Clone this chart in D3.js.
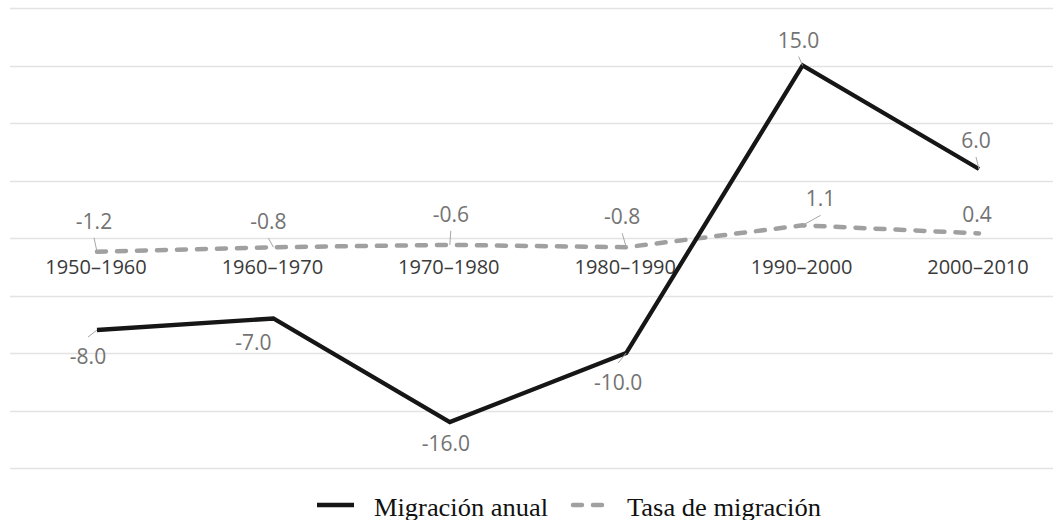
<!DOCTYPE html>
<html>
<head>
<meta charset="utf-8">
<script src="https://cdn.jsdelivr.net/npm/d3@7"></script>
<style>
  html, body { margin: 0; padding: 0; background: #fff; }
  svg { display: block; }
  .grid line { stroke: #e3e3e3; stroke-width: 1.3px; }
  .cat { font-family: "Open Sans", sans-serif; font-size: 20px; fill: #3a3a3a; text-anchor: middle; }
  .lbl { font-family: "Open Sans", sans-serif; font-size: 21px; fill: #737373; text-anchor: middle; }
  .leader { stroke: #a6a6a6; stroke-width: 1px; }
  .legend text { font-family: "Liberation Serif", "Times New Roman", serif; font-size: 25px; fill: #111; }
</style>
</head>
<body>
<svg id="chart" width="1053" height="520"></svg>
<script>
// chart values
const categories = ['1950–1960', '1960–1970', '1970–1980', '1980–1990', '1990–2000', '2000–2010'];
const migracionAnual = [-8.0, -7.0, -16.0, -10.0, 15.0, 6.0];
const tasaMigracion = [-1.2, -0.8, -0.6, -0.8, 1.1, 0.4];
const yTicks = [-20, -15, -10, -5, 0, 5, 10, 15, 20];
const seriesNames = ['Migración anual', 'Tasa de migración'];

// label placement (offset of label centre / baseline from its point), leader lines on or off
const anualLabelDx = [-9, -20, -4, -8, -4, -3];
const anualLabelDy = [34, 31, 29, 37, -18, -21];
const anualLeader = [true, false, false, true, true, true];
const tasaLabelDx = [-3, -5, 1, -4, 18, -2];
const tasaLabelDy = [-23, -18, -23, -23, -19, -11];
const tasaLeader = [true, true, true, true, true, false];

const svg = d3.select('#chart');

const x = d3.scalePoint()
  .domain(categories)
  .range([97, 979]);

const y = d3.scaleLinear()
  .domain([-20, 20])
  .range([468, 8]);

// gridlines
svg.append('g')
  .attr('class', 'grid')
  .selectAll('line')
  .data(yTicks)
  .enter().append('line')
  .attr('x1', 10)
  .attr('x2', 1053)
  .attr('y1', d => Math.round(y(d)) + 0.5)
  .attr('y2', d => Math.round(y(d)) + 0.5);

// category labels sit on the zero line
svg.append('g')
  .selectAll('text')
  .data(categories)
  .enter().append('text')
  .attr('class', 'cat')
  .attr('x', d => x(d) - 1)
  .attr('y', y(0) + 36)
  .text(d => d);

const line = d3.line()
  .x((d, i) => x(categories[i]))
  .y(d => y(d));

// tasa de migración (dashed grey)
svg.append('path')
  .datum(tasaMigracion)
  .attr('d', line)
  .attr('fill', 'none')
  .attr('stroke', '#a0a0a0')
  .attr('stroke-width', 4.5)
  .attr('stroke-linecap', 'round')
  .attr('stroke-dasharray', '9 11');

// migración anual (solid black)
svg.append('path')
  .datum(migracionAnual)
  .attr('d', line)
  .attr('fill', 'none')
  .attr('stroke', '#161616')
  .attr('stroke-width', 4.3)
  .attr('stroke-linejoin', 'miter');

function drawLabels(values, dxs, dys, leaders) {
  const g = svg.append('g');
  values.forEach((v, i) => {
    const px = x(categories[i]);
    const py = y(v);
    const lx = px + dxs[i];
    const ly = py + dys[i];
    if (leaders[i]) {
      const above = dys[i] < 0;
      const ay = above ? ly + 9 : ly - 27;
      g.append('line')
        .attr('class', 'leader')
        .attr('x1', px)
        .attr('y1', py)
        .attr('x2', lx)
        .attr('y2', ay);
    }
    g.append('text')
      .attr('class', 'lbl')
      .attr('x', lx)
      .attr('y', ly)
      .text(v.toFixed(1));
  });
}

drawLabels(tasaMigracion, tasaLabelDx, tasaLabelDy, tasaLeader);
drawLabels(migracionAnual, anualLabelDx, anualLabelDy, anualLeader);

// legend
const legend = svg.append('g').attr('class', 'legend');
legend.append('line')
  .attr('x1', 317).attr('x2', 354)
  .attr('y1', 505).attr('y2', 505)
  .attr('stroke', '#161616').attr('stroke-width', 4.3);
legend.append('text')
  .attr('x', 374).attr('y', 516)
  .attr('textLength', 174)
  .attr('lengthAdjust', 'spacingAndGlyphs')
  .text(seriesNames[0]);
legend.append('line')
  .attr('x1', 573).attr('x2', 606)
  .attr('y1', 505).attr('y2', 505)
  .attr('stroke', '#a0a0a0').attr('stroke-width', 4.5)
  .attr('stroke-linecap', 'round')
  .attr('stroke-dasharray', '9 11');
legend.append('text')
  .attr('x', 627).attr('y', 516)
  .attr('textLength', 194)
  .attr('lengthAdjust', 'spacingAndGlyphs')
  .text(seriesNames[1]);
</script>
</body>
</html>
